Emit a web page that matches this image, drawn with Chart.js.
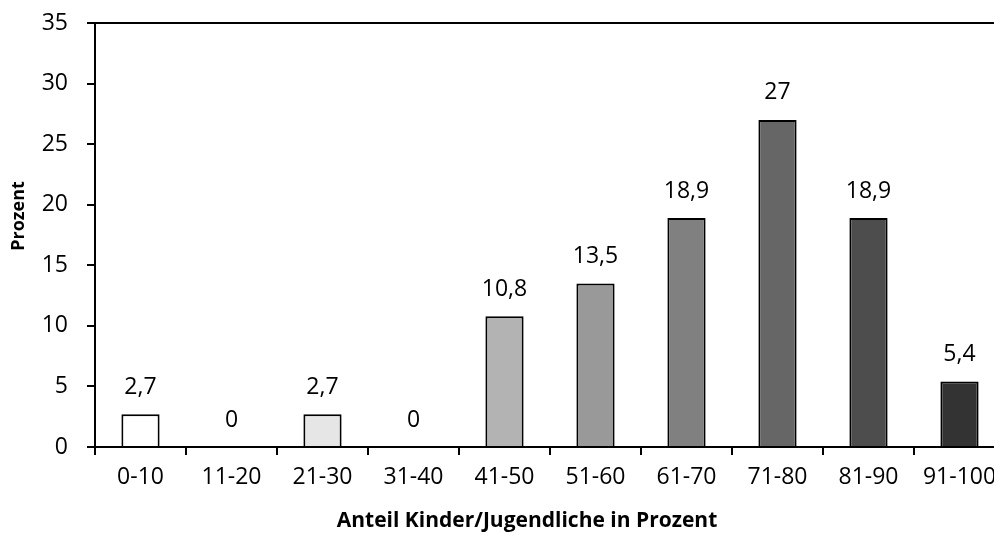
<!DOCTYPE html>
<html>
<head>
<meta charset="utf-8">
<script src="https://cdn.jsdelivr.net/npm/chart.js@4/dist/chart.umd.min.js"></script>
<style>
  html, body { margin: 0; padding: 0; background: #fff; overflow: hidden; }
  canvas { display: block; }
</style>
</head>
<body>
<canvas id="chart" width="1030" height="534"></canvas>
<script>
// --- Data ---
const categories = ['0-10', '11-20', '21-30', '31-40', '41-50', '51-60', '61-70', '71-80', '81-90', '91-100'];
const values = [2.7, 0, 2.7, 0, 10.8, 13.5, 18.9, 27, 18.9, 5.4];
const yTicks = [0, 5, 10, 15, 20, 25, 30, 35];
const xTitle = 'Anteil Kinder/Jugendliche in Prozent';
const yTitle = 'Prozent';

const barColors = ['#ffffff', '#f2f2f2', '#e6e6e6', '#cccccc', '#b3b3b3', '#999999', '#808080', '#666666', '#4d4d4d', '#333333'];
const FONT = '"Open Sans", sans-serif';
const FONT_SIZE = 23;

const fmt = v => String(v).replace('.', ',');

// value labels above each bar
const valueLabels = {
  id: 'valueLabels',
  afterDatasetsDraw(chart) {
    const { ctx } = chart;
    const meta = chart.getDatasetMeta(0);
    ctx.save();
    ctx.font = `${FONT_SIZE}px ${FONT}`;
    ctx.fillStyle = '#000';
    ctx.textAlign = 'center';
    ctx.textBaseline = 'middle';
    meta.data.forEach((bar, i) => {
      ctx.fillText(fmt(values[i]), bar.x, bar.y - 27);
    });
    ctx.restore();
  },
};

// axis titles placed like the original
const axisTitles = {
  id: 'axisTitles',
  afterDraw(chart) {
    const { ctx } = chart;
    ctx.save();
    ctx.fillStyle = '#000';
    ctx.textAlign = 'center';
    ctx.textBaseline = 'middle';
    ctx.font = `bold 21px ${FONT}`;
    ctx.fillText(xTitle, 527, 521);
    ctx.translate(19, 216);
    ctx.rotate(-Math.PI / 2);
    ctx.font = `bold 18px ${FONT}`;
    ctx.fillText(yTitle, 0, 0);
    ctx.restore();
  },
};

new Chart(document.getElementById('chart'), {
  type: 'bar',
  data: {
    labels: categories,
    datasets: [{
      data: values,
      backgroundColor: barColors,
      borderColor: '#000',
      borderWidth: 2,
      categoryPercentage: 1,
      barPercentage: 0.42,
    }],
  },
  options: {
    responsive: false,
    animation: false,
    devicePixelRatio: 1,
    layout: { padding: { top: 23, right: 25, left: 0, bottom: 0 } },
    plugins: { legend: { display: false }, tooltip: { enabled: false } },
    scales: {
      x: {
        afterFit: s => { s.height = 87; s.paddingLeft = 0; s.paddingRight = 0; },
        border: { color: '#000', width: 2 },
        grid: { offset: true, drawOnChartArea: false, drawTicks: true, tickLength: 8, color: '#000', lineWidth: 2 },
        ticks: { color: '#000', font: { family: FONT, size: FONT_SIZE }, padding: 9, maxRotation: 0, autoSkip: false },
      },
      y: {
        min: 0,
        max: 35,
        afterFit: s => { s.width = 95; s.paddingTop = 0; s.paddingBottom = 0; },
        afterBuildTicks: s => { s.ticks = yTicks.map(v => ({ value: v })); },
        border: { color: '#000', width: 2 },
        grid: {
          drawTicks: true,
          tickLength: 8,
          color: c => (c.tick && c.tick.value === 35 ? '#000' : 'rgba(0,0,0,0)'),
          tickColor: '#000',
          lineWidth: 2,
        },
        ticks: { color: '#000', font: { family: FONT, size: FONT_SIZE }, padding: 19 },
      },
    },
  },
  plugins: [valueLabels, axisTitles],
});
</script>
</body>
</html>
